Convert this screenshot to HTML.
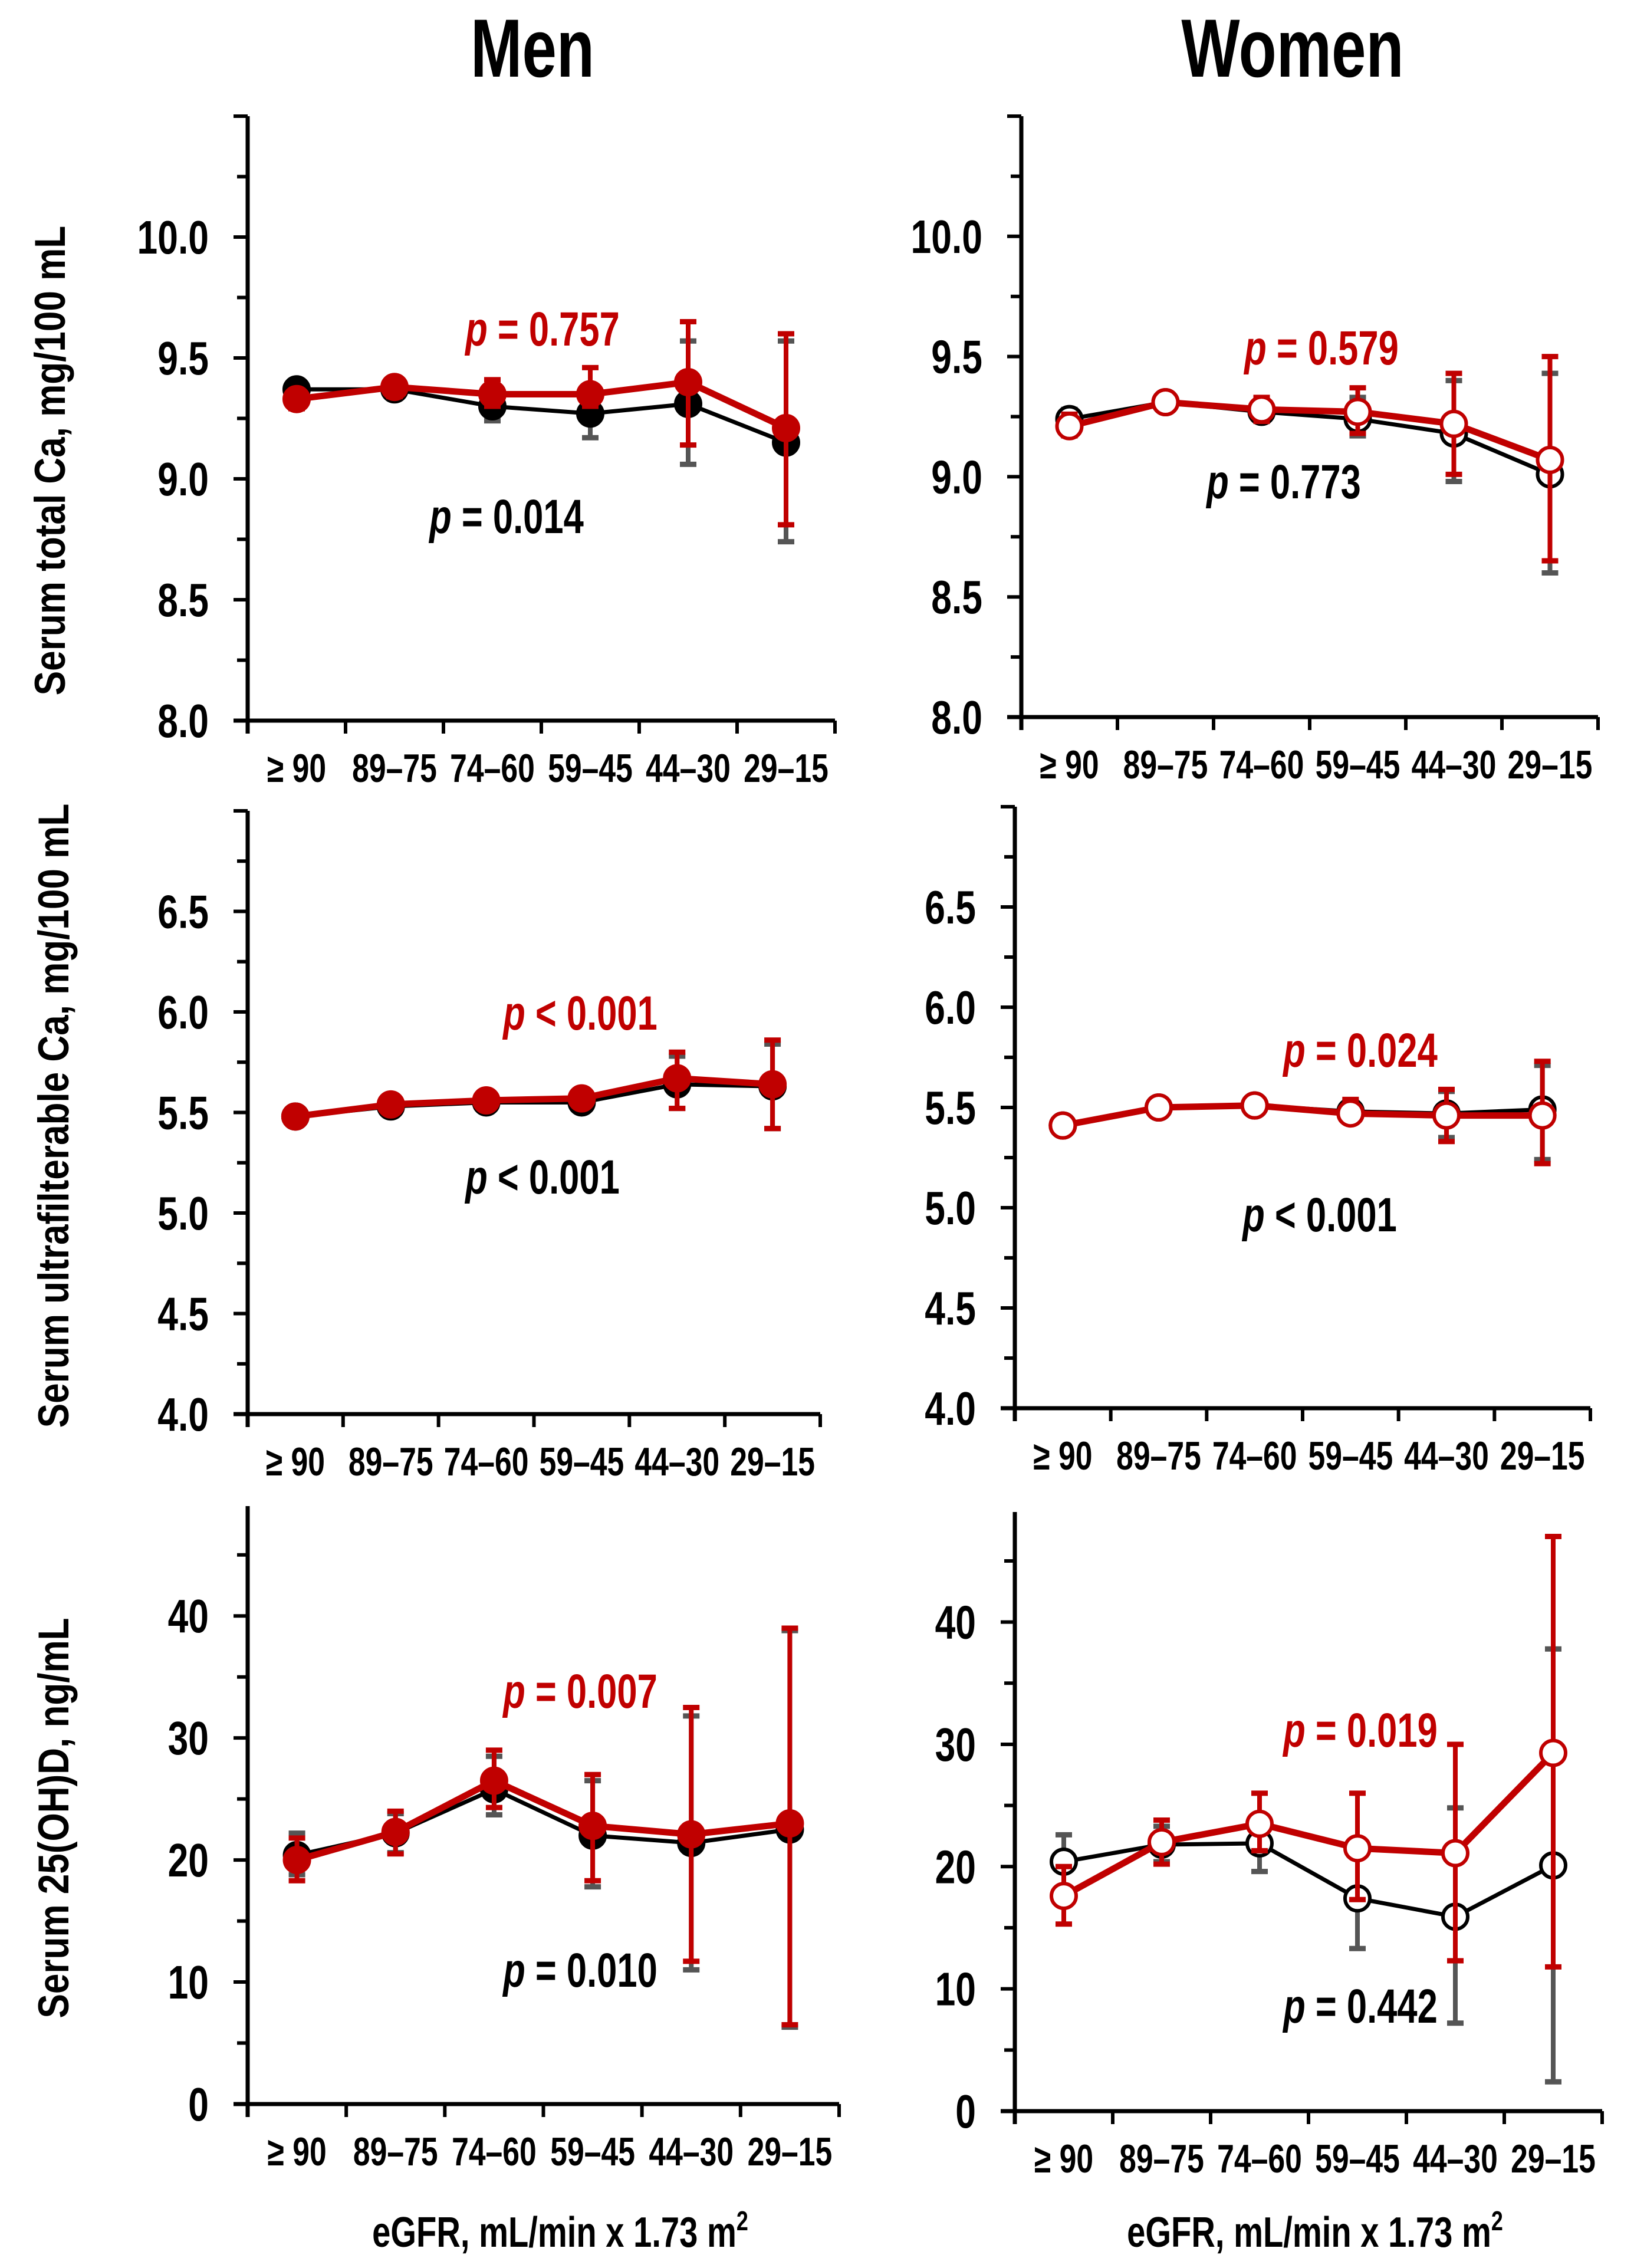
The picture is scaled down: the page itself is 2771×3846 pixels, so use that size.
<!DOCTYPE html>
<html><head><meta charset="utf-8"><style>
html,body{margin:0;padding:0;background:#fff;}
svg{display:block;}
text{font-family:"Liberation Sans",sans-serif;font-weight:bold;}
</style></head>
<body>
<svg id="fig" width="2771" height="3846" viewBox="0 0 2771 3846" xmlns="http://www.w3.org/2000/svg">
<rect width="2771" height="3846" fill="#fff"/>
<g transform="translate(903,130) scale(0.75,1)"><text x="0" y="0" font-size="140" text-anchor="middle">Men</text></g>
<g transform="translate(2192,130) scale(0.75,1)"><text x="0" y="0" font-size="140" text-anchor="middle">Women</text></g>
<g transform="translate(110,781) rotate(-90) scale(0.85,1)"><text x="0" y="0" font-size="73" text-anchor="middle">Serum total Ca, mg/100 mL</text></g>
<g transform="translate(116,1892) rotate(-90) scale(0.85,1)"><text x="0" y="0" font-size="73" text-anchor="middle">Serum ultrafilterable Ca, mg/100 mL</text></g>
<g transform="translate(116,3083) rotate(-90) scale(0.85,1)"><text x="0" y="0" font-size="73" text-anchor="middle">Serum 25(OH)D, ng/mL</text></g>
<g transform="translate(950,3810) scale(0.78,1)"><text x="0" y="0" font-size="72" text-anchor="middle">eGFR, mL/min x 1.73 m<tspan font-size="46" dy="-28">2</tspan></text></g>
<g transform="translate(2230,3810) scale(0.78,1)"><text x="0" y="0" font-size="72" text-anchor="middle">eGFR, mL/min x 1.73 m<tspan font-size="46" dy="-28">2</tspan></text></g>
</svg>
<script>
const categories = ["\u2265 90","89\u201375","74\u201360","59\u201345","44\u201330","29\u201315"];

// Men – total Ca
const menCaBlack = [9.37,9.37,9.30,9.27,9.31,9.15];
const menCaBlackLo = [9.35,9.35,9.24,9.17,9.06,8.74];
const menCaBlackHi = [9.40,9.40,9.36,9.37,9.57,9.57];
const menCaRed = [9.33,9.38,9.35,9.35,9.40,9.21];
const menCaRedLo = [9.29,9.34,9.30,9.30,9.14,8.81];
const menCaRedHi = [9.36,9.41,9.41,9.46,9.65,9.60];
// Women – total Ca
const womCaBlack = [9.24,9.31,9.27,9.24,9.18,9.01];
const womCaBlackLo = [9.21,9.29,9.24,9.17,8.98,8.60];
const womCaBlackHi = [9.28,9.33,9.30,9.33,9.40,9.43];
const womCaRed = [9.21,9.31,9.28,9.27,9.22,9.07];
const womCaRedLo = [9.17,9.29,9.23,9.18,9.01,8.65];
const womCaRedHi = [9.26,9.33,9.33,9.37,9.43,9.50];
// Men – ultrafilterable Ca
const menUfBlack = [5.48,5.53,5.55,5.55,5.64,5.63];
const menUfBlackLo = [5.47,5.52,5.53,5.52,5.52,5.42];
const menUfBlackHi = [5.49,5.54,5.57,5.60,5.78,5.84];
const menUfRed = [5.48,5.54,5.56,5.57,5.67,5.64];
const menUfRedLo = [5.47,5.53,5.54,5.53,5.52,5.42];
const menUfRedHi = [5.49,5.55,5.58,5.61,5.80,5.86];
// Women – ultrafilterable Ca
const womUfBlack = [5.41,5.50,5.51,5.48,5.47,5.49];
const womUfBlackLo = [5.40,5.49,5.50,5.44,5.35,5.24];
const womUfBlackHi = [5.42,5.51,5.53,5.53,5.58,5.71];
const womUfRed = [5.41,5.50,5.51,5.47,5.46,5.46];
const womUfRedLo = [5.40,5.49,5.50,5.43,5.33,5.22];
const womUfRedHi = [5.42,5.51,5.53,5.54,5.59,5.73];
// Men – 25(OH)D
const menDBlack = [20.4,22.2,25.8,22.0,21.4,22.5];
const menDBlackLo = [18.8,20.6,23.7,17.8,11.0,6.3];
const menDBlackHi = [22.2,23.8,28.5,26.5,31.8,38.8];
const menDRed = [20.0,22.3,26.5,22.8,22.1,23.0];
const menDRedLo = [18.3,20.5,24.3,18.3,11.7,6.5];
const menDRedHi = [21.8,24.0,29.0,27.0,32.5,39.0];
// Women – 25(OH)D
const womDBlack = [20.4,21.8,21.9,17.4,15.9,20.1];
const womDBlackLo = [18.3,20.4,19.6,13.3,7.2,2.4];
const womDBlackHi = [22.6,23.3,24.2,21.5,24.8,37.8];
const womDRed = [17.6,22.0,23.5,21.5,21.1,29.3];
const womDRedLo = [15.3,20.2,21.3,17.3,12.3,11.8];
const womDRedHi = [20.0,23.8,26.0,26.0,30.0,47.0];

const pLabels = ["p = 0.757","p = 0.014","p = 0.579","p = 0.773","p < 0.001","p < 0.001","p = 0.024","p < 0.001","p = 0.007","p = 0.010","p = 0.019","p = 0.442"];
const ticksCa = ["8.0","8.5","9.0","9.5","10.0"];
const ticksUf = ["4.0","4.5","5.0","5.5","6.0","6.5"];
const ticksD = ["0","10","20","30","40"];

const NS = "http://www.w3.org/2000/svg";
const svg = document.getElementById('fig');
function mk(tag, attrs, parent){const e=document.createElementNS(NS,tag);for(const k in attrs)e.setAttribute(k,attrs[k]);(parent||svg).appendChild(e);return e;}

const panels = [
 {id:'men-total-ca',x0:420,x1:1416,yb:1222,yTop:197,vmin:8,vmax:10.5,step:0.5,minor:0.25,ticks:ticksCa,hollow:false,
  b:[menCaBlack,menCaBlackLo,menCaBlackHi],r:[menCaRed,menCaRedLo,menCaRedHi],pr:[0,920,586],pb:[1,859,904]},
 {id:'women-total-ca',x0:1732,x1:2710,yb:1216,yTop:197,vmin:8,vmax:10.5,step:0.5,minor:0.25,ticks:ticksCa,hollow:true,
  b:[womCaBlack,womCaBlackLo,womCaBlackHi],r:[womCaRed,womCaRedLo,womCaRedHi],pr:[2,2241,618],pb:[3,2177,845]},
 {id:'men-ultrafilterable-ca',x0:420,x1:1391,yb:2398,yTop:1375,vmin:4,vmax:7,step:0.5,minor:0.25,ticks:ticksUf,hollow:false,
  b:[menUfBlack,menUfBlackLo,menUfBlackHi],r:[menUfRed,menUfRedLo,menUfRedHi],pr:[4,984,1746],pb:[5,920,2024]},
 {id:'women-ultrafilterable-ca',x0:1721,x1:2697,yb:2388,yTop:1368,vmin:4,vmax:7,step:0.5,minor:0.25,ticks:ticksUf,hollow:true,
  b:[womUfBlack,womUfBlackLo,womUfBlackHi],r:[womUfRed,womUfRedLo,womUfRedHi],pr:[6,2307,1809],pb:[7,2238,2088]},
 {id:'men-25ohd',x0:420,x1:1423,yb:3568,yTop:2554,vmin:0,vmax:49,step:10,minor:5,ticks:ticksD,hollow:false,
  b:[menDBlack,menDBlackLo,menDBlackHi],r:[menDRed,menDRedLo,menDRedHi],pr:[8,984,2896],pb:[9,984,3369]},
 {id:'women-25ohd',x0:1721,x1:2717,yb:3580,yTop:2564,vmin:0,vmax:49,step:10,minor:5,ticks:ticksD,hollow:true,
  b:[womDBlack,womDBlackLo,womDBlackHi],r:[womDRed,womDRedLo,womDRedHi],pr:[10,2307,2962],pb:[11,2307,3430]}
];

panels.forEach(p=>{
  const g = mk('g',{});
  
  
  const y = v => p.yb - (v-p.vmin)/(p.vmax-p.vmin)*(p.yb-p.yTop);
  const bw = (p.x1-p.x0)/categories.length;
  const x = i => p.x0 + bw*(i+0.5);
  const ya = mk('line',{x1:p.x0,y1:p.yTop,x2:p.x0,y2:p.yb+22,stroke:'#000','stroke-width':7},g);
  
  
  const xa = mk('line',{x1:p.x0-24,y1:p.yb,x2:p.x1,y2:p.yb,stroke:'#000','stroke-width':7},g);
  
  
  for(let v=p.vmin+p.minor; v<=p.vmax+1e-6; v+=p.minor){
    const major = Math.abs((v-p.vmin)/p.step - Math.round((v-p.vmin)/p.step))<1e-6;
    mk('line',{x1:p.x0-(major?24:18),y1:y(v),x2:p.x0,y2:y(v),stroke:'#000','stroke-width':6},g);
  }
  p.ticks.forEach(t=>{
    const tg = mk('g',{transform:`translate(${p.x0-66},${y(parseFloat(t))+28}) scale(0.78,1)`},g);
    const tt = mk('text',{x:0,y:0,'font-size':80,'text-anchor':'end'},tg);
    
    
    tt.textContent = t;
  });
  for(let i=1;i<=categories.length;i++){
    mk('line',{x1:p.x0+bw*i,y1:p.yb,x2:p.x0+bw*i,y2:p.yb+22,stroke:'#000','stroke-width':6},g);
  }
  categories.forEach((c,i)=>{
    const tg = mk('g',{transform:`translate(${x(i)},${p.yb+104}) scale(0.76,1)`},g);
    const tt = mk('text',{x:0,y:0,'font-size':68,'text-anchor':'middle'},tg);
    
    
    tt.textContent = c;
  });
  [[p.b,'#000','#555',7,'black'],[p.r,'#c00000','#c00000',11,'red']].forEach(([s,col,ecol,lw,nm])=>{
    const [vals,lo,hi]=s;
    vals.forEach((v,i)=>{
      const eb = mk('g',{},g);
      
      
      mk('line',{x1:x(i),y1:y(lo[i]),x2:x(i),y2:y(hi[i]),stroke:ecol,'stroke-width':8},eb);
      mk('line',{x1:x(i)-14,y1:y(lo[i]),x2:x(i)+14,y2:y(lo[i]),stroke:ecol,'stroke-width':9},eb);
      mk('line',{x1:x(i)-14,y1:y(hi[i]),x2:x(i)+14,y2:y(hi[i]),stroke:ecol,'stroke-width':9},eb);
    });
    const pl = mk('polyline',{points:vals.map((v,i)=>x(i)+','+y(v)).join(' '),fill:'none',stroke:col,'stroke-width':lw,'stroke-linejoin':'round'},g);
    
    
    vals.forEach((v,i)=>{
      const c = mk('circle',{cx:x(i),cy:y(v),r:p.hollow?21:23,fill:p.hollow?'#fff':col,stroke:col,'stroke-width':p.hollow?6:2},g);
      
      
    });
  });
  [[p.pr,'#c00000'],[p.pb,'#000']].forEach(([pp,col])=>{
    const tg = mk('g',{transform:`translate(${pp[1]},${pp[2]}) scale(0.75,1)`},g);
    const t = mk('text',{x:0,y:0,'font-size':82,'text-anchor':'middle',fill:col},tg);
    
    
    const s = pLabels[pp[0]];
    const it = mk('tspan',{'font-style':'italic'},t); it.textContent = s.charAt(0);
    const rest = mk('tspan',{},t); rest.textContent = s.slice(1);
  });
});
</script>
</body></html>
